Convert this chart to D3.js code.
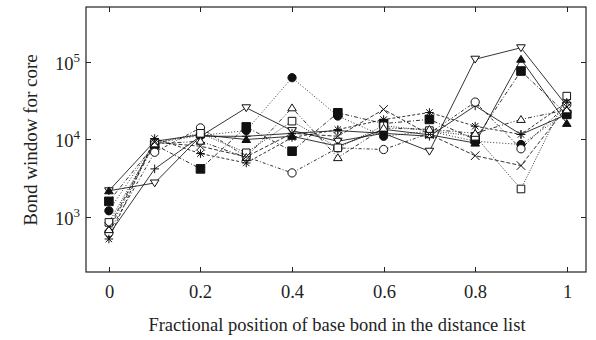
<!DOCTYPE html>
<html><head><meta charset="utf-8">
<script src="https://cdn.jsdelivr.net/npm/d3@7"></script>
<style>
html,body{margin:0;padding:0;background:#fff;}
svg{display:block;font-family:"Liberation Serif","Times New Roman",serif;}
</style></head>
<body><svg id="c" width="596" height="340"></svg>
<script>
// ---- data ----
const positions = [0, 0.1, 0.2, 0.3, 0.4, 0.5, 0.6, 0.7, 0.8, 0.9, 1];
const xTicks = [0, 0.2, 0.4, 0.6, 0.8, 1];
const xTickLabels = ["0", "0.2", "0.4", "0.6", "0.8", "1"];
const yTickExps = [3, 4, 5];
const xTitle = "Fractional position of base bond in the distance list";
const yTitle = "Bond window for core";

const seriesNames = ["triDown", "triUpFilled", "plus", "squareFilled", "circleFilled", "circleOpen", "squareOpen", "triUpOpen", "times", "asterisk"];
const triDown      = [2200, 2770, 11000, 25500, 13000, 9500, 12000, 7070, 107000, 150000, 27000];
const triUpFilled  = [2200, 9500, 11500, 10000, 11000, 8200, 13500, 11500, 9000, 107000, 16100];
const plus         = [600, 4200, 11000, 11000, 12000, 13000, 12000, 11000, 27000, 11600, 21000];
const squareFilled = [1610, 8600, 4200, 14500, 7080, 22000, 16000, 18100, 10000, 75500, 21000];
const circleFilled = [1220, 9000, 11250, 13000, 62000, 20000, 11000, 12800, 9500, 8630, 22000];
const circleOpen   = [640, 6860, 14100, 6000, 3730, 7800, 7440, 12000, 30200, 7600, 28000];
const squareOpen   = [865, 9000, 12000, 6750, 17200, 7820, 15000, 13000, 11000, 2320, 36000];
const triUpOpen    = [700, 8800, 9500, 5900, 25500, 5860, 14000, 13500, 12000, 18100, 24000];
const times        = [760, 9200, 8200, 6000, 12000, 11000, 24300, 11600, 6200, 4630, 26000];
const asterisk     = [530, 10300, 6600, 5000, 10600, 13400, 18000, 22200, 14800, 11600, 30000];

const seriesValues = {triDown, triUpFilled, plus, squareFilled, circleFilled, circleOpen, squareOpen, triUpOpen, times, asterisk};
const dashStyles = {
  triDown: null, triUpFilled: null, plus: null,
  squareFilled: "4,2,1,2", circleFilled: "1,2", circleOpen: "3,2,1,2",
  squareOpen: "1,1.5", triUpOpen: "4,2,1,2,1,2", times: "4,2", asterisk: "3,2"
};

// ---- layout ----
const L = 86, R = 586, T = 7, B = 272;
const svg = d3.select("#c");
const x = d3.scaleLinear().domain([-0.05, 1.042]).range([L, R]);
const y = d3.scaleLog().domain([200, 500000]).range([B, T]);

// series lines
const line = d3.line().x((d, i) => x(positions[i])).y(d => y(d));
seriesNames.forEach(n => {
  svg.append("path").datum(seriesValues[n])
    .attr("d", line).attr("fill", "none").attr("stroke", "#111")
    .attr("stroke-width", 0.85)
    .attr("stroke-dasharray", dashStyles[n]);
});

// markers
function markerPath(type) {
  const r = 4.3;
  switch (type) {
    case "triDown": return `M${-r},${-r*0.7}L${r},${-r*0.7}L0,${r*0.9}Z`;
    case "triUpFilled":
    case "triUpOpen": return `M${-r},${r*0.7}L${r},${r*0.7}L0,${-r*0.9}Z`;
    case "plus": return `M${-r},0H${r}M0,${-r}V${r}`;
    case "times": return `M${-r},${-r}L${r},${r}M${-r},${r}L${r},${-r}`;
    case "asterisk": return `M${-r},0H${r}M0,${-r}V${r}M${-r*0.75},${-r*0.75}L${r*0.75},${r*0.75}M${-r*0.75},${r*0.75}L${r*0.75},${-r*0.75}`;
    case "squareFilled": return `M${-r},${-r}H${r}V${r}H${-r}Z`;
    case "squareOpen": return `M${-3.8},${-3.8}H${3.8}V${3.8}H${-3.8}Z`;
    case "circleFilled":
    case "circleOpen": return d3.symbol(d3.symbolCircle, Math.PI * 17)();
  }
}
const filled = new Set(["triUpFilled", "squareFilled", "circleFilled"]);
const strokeOnly = new Set(["plus", "times", "asterisk"]);
seriesNames.forEach(n => {
  svg.append("g").selectAll("path").data(seriesValues[n]).join("path")
    .attr("transform", (d, i) => `translate(${x(positions[i])},${y(d)})`)
    .attr("d", markerPath(n))
    .attr("fill", filled.has(n) ? "#111" : (strokeOnly.has(n) ? "none" : "#fff"))
    .attr("stroke", "#111").attr("stroke-width", 1);
});

// frame
svg.append("rect").attr("x", L).attr("y", T).attr("width", R - L).attr("height", B - T)
  .attr("fill", "none").attr("stroke", "#222").attr("stroke-width", 1.2);

// ticks (inward, all four sides)
const tl = 5;
xTicks.forEach((t, i) => {
  const px = Math.round(x(t)) + 0.5;
  svg.append("line").attr("x1", px).attr("x2", px).attr("y1", B).attr("y2", B - tl).attr("stroke", "#222");
  svg.append("line").attr("x1", px).attr("x2", px).attr("y1", T).attr("y2", T + tl).attr("stroke", "#222");
  svg.append("text").attr("x", px).attr("y", 298).attr("text-anchor", "middle")
    .attr("font-size", 18.5).attr("fill", "#222").text(xTickLabels[i]);
});
yTickExps.forEach(e => {
  const py = Math.round(y(Math.pow(10, e))) + 0.5;
  svg.append("line").attr("x1", L).attr("x2", L + tl).attr("y1", py).attr("y2", py).attr("stroke", "#222");
  svg.append("line").attr("x1", R).attr("x2", R - tl).attr("y1", py).attr("y2", py).attr("stroke", "#222");
  const t = svg.append("text").attr("x", 80).attr("y", py + 7).attr("text-anchor", "end")
    .attr("font-size", 18.5).attr("fill", "#222");
  t.append("tspan").text("10");
  t.append("tspan").attr("dy", -8).attr("font-size", 13).text(String(e));
});

// axis titles
svg.append("text").attr("x", 337).attr("y", 331).attr("text-anchor", "middle")
  .attr("font-size", 18.5).attr("fill", "#222").text(xTitle);
svg.append("text").attr("transform", "translate(37,140) rotate(-90)").attr("text-anchor", "middle")
  .attr("font-size", 19).attr("fill", "#222").text(yTitle);
</script></body></html>
